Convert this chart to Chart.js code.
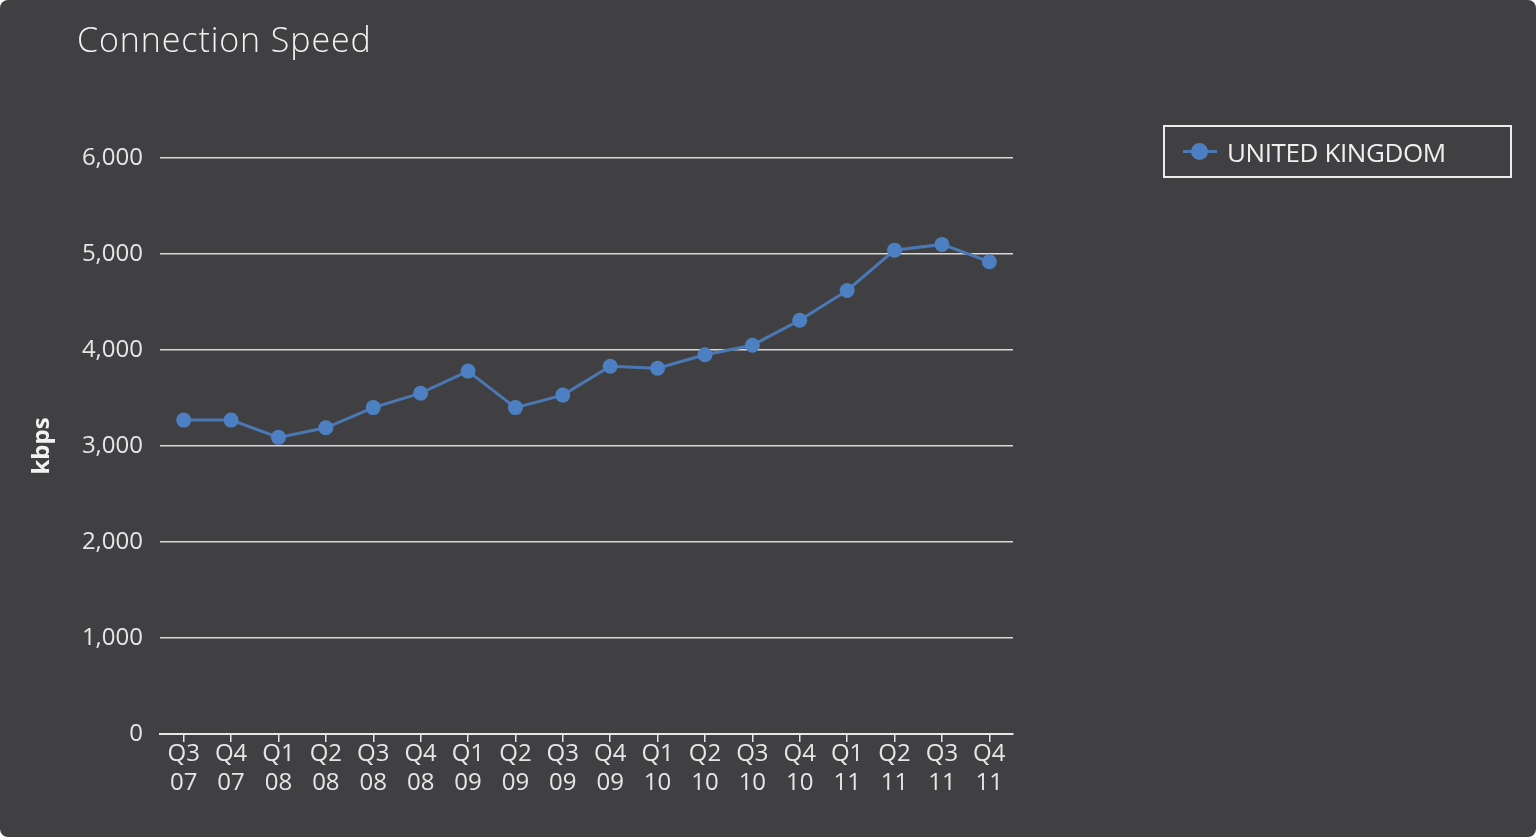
<!DOCTYPE html>
<html>
<head>
<meta charset="utf-8">
<script src="https://cdn.jsdelivr.net/npm/chart.js@4/dist/chart.umd.min.js"></script>
<style>
  html, body {
    margin: 0;
    padding: 0;
    background: #ffffff;
  }
  .panel {
    position: relative;
    width: 1536px;
    height: 837px;
    background: #404042;
    border-radius: 8px;
    overflow: hidden;
    font-family: 'Open Sans', sans-serif;
  }
  .title {
    position: absolute;
    left: 77px;
    top: 16px;
    font-size: 34px;
    font-weight: 300;
    letter-spacing: 0.9px;
    color: #f2f2f2;
  }
  .legend {
    position: absolute;
    left: 1163px;
    top: 125px;
    width: 345px;
    height: 49px;
    border: 2px solid #ececec;
    color: #f0f0f0;
    font-size: 26px;
  }
  .legend .line {
    position: absolute;
    left: 18px;
    top: 23px;
    width: 34px;
    height: 3px;
    background: #4a78b5;
  }
  .legend .dot {
    position: absolute;
    left: 26px;
    top: 16px;
    width: 17px;
    height: 17px;
    border-radius: 50%;
    background: #4d80c2;
  }
  .legend .label {
    position: absolute;
    left: 62px;
    top: 7px;
    letter-spacing: -0.4px;
  }
  canvas {
    position: absolute;
    left: 0;
    top: 0;
  }
</style>
</head>
<body>
<div class="panel">
  <canvas id="speedChart" width="1536" height="837"></canvas>
  <div class="title">Connection Speed</div>
  <div class="legend">
    <div class="line"></div>
    <div class="dot"></div>
    <div class="label" id="legendLabel"></div>
  </div>
</div>
<script>
  // quarters shown on the x axis (two-line labels)
  const quarters = ['Q3', 'Q4', 'Q1', 'Q2', 'Q3', 'Q4', 'Q1', 'Q2', 'Q3', 'Q4', 'Q1', 'Q2', 'Q3', 'Q4', 'Q1', 'Q2', 'Q3', 'Q4'];
  const years = ['07', '07', '08', '08', '08', '08', '09', '09', '09', '09', '10', '10', '10', '10', '11', '11', '11', '11'];

  const seriesName = 'UNITED KINGDOM';
  const ukSpeed = [3270, 3270, 3090, 3190, 3400, 3550, 3780, 3400, 3530, 3830, 3810, 3950, 4050, 4310, 4620, 5040, 5100, 4920];

  const yMin = 0;
  const yMax = 6000;
  const yStep = 1000;

  document.getElementById('legendLabel').textContent = seriesName;

  const labels = quarters.map((q, i) => [q, years[i]]);
  const textColor = '#e6e6e6';

  new Chart(document.getElementById('speedChart').getContext('2d'), {
    type: 'line',
    data: {
      labels,
      datasets: [{
        label: seriesName,
        data: ukSpeed,
        borderColor: '#4a78b5',
        backgroundColor: '#4d80c2',
        borderWidth: 3,
        pointRadius: 7.5,
        pointBackgroundColor: '#4d80c2',
        pointBorderWidth: 0,
        tension: 0
      }]
    },
    options: {
      responsive: false,
      animation: false,
      layout: {
        padding: { left: 0, right: 523, top: 158, bottom: 0 }
      },
      plugins: {
        legend: { display: false },
        tooltip: { enabled: false }
      },
      scales: {
        x: {
          offset: true,
          afterFit: s => { s.height = 103; },
          grid: {
            drawOnChartArea: false,
            drawTicks: true,
            tickLength: 8,
            color: '#e8e8e8',
            lineWidth: 1.5
          },
          border: { display: true, color: '#e8e8e8', width: 2 },
          ticks: {
            color: textColor,
            padding: -2,
            maxRotation: 0,
            autoSkip: false,
            font: { family: 'Open Sans', size: 24, lineHeight: 1.2 }
          }
        },
        y: {
          min: yMin,
          max: yMax,
          afterFit: s => { s.width = 160; },
          grid: {
            drawTicks: false,
            color: ctx => ctx.tick.value === 0 ? 'rgba(0,0,0,0)' : '#d8d8d8',
            lineWidth: 1.5
          },
          border: { display: false },
          ticks: {
            stepSize: yStep,
            color: textColor,
            padding: 17,
            font: { family: 'Open Sans', size: 24 }
          },
          title: {
            display: true,
            text: 'kbps',
            color: '#f2f2f2',
            padding: { top: 28, bottom: 0 },
            font: { family: 'Open Sans', size: 24, weight: 'bold' }
          }
        }
      }
    }
  });
</script>
</body>
</html>
